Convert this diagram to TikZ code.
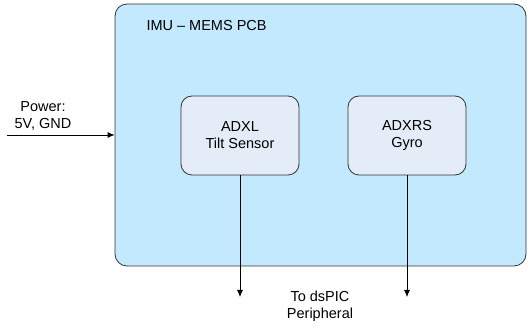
\documentclass[tikz,border=0pt]{standalone}
\usepackage{fontspec}
\setmainfont{Liberation Sans}
\usetikzlibrary{arrows.meta}
\definecolor{pcbblue}{HTML}{C2E9FD}
\definecolor{chipfill}{HTML}{E4ECF7}
\begin{document}
\begin{tikzpicture}[x=1pt,y=-1pt]
\tikzstyle{every node}+=[font=\fontsize{14.5}{17}\selectfont]
\tikzstyle{board}=[draw=black!80, fill=pcbblue, rounded corners=12pt, line width=0.8pt, inner sep=0pt, minimum width=411pt, minimum height=262pt]
\tikzstyle{chip}=[draw=black!80, fill=chipfill, rounded corners=11pt, line width=0.8pt, minimum width=118pt, minimum height=79pt, align=center]
\tikzstyle{wire}=[line width=0.8pt, -{Latex[length=7pt,width=6pt]}]
\useasboundingbox (0,0) rectangle (528,328);
\node [board] (pcb) at (320.5,135) {};
\node [anchor=west] (title) at (143,26) {IMU -- MEMS PCB};
\node [chip] (adxl) at (240,135.5) {ADXL\\Tilt Sensor};
\node [chip] (adxrs) at (407,135.5) {ADXRS\\Gyro};
\node [align=center] (power) at (43,116) {Power:\\5V, GND};
\node [align=center] (dspic) at (320,306) {To dsPIC\\Peripheral};
\coordinate (pwrin) at (7,135);
\coordinate (outa) at (240,297);
\coordinate (outb) at (407,297);
\draw [wire] (pwrin) -- (pcb.west);
\draw [wire] (adxl) -- (outa);
\draw [wire] (adxrs) -- (outb);
\end{tikzpicture}
\end{document}
